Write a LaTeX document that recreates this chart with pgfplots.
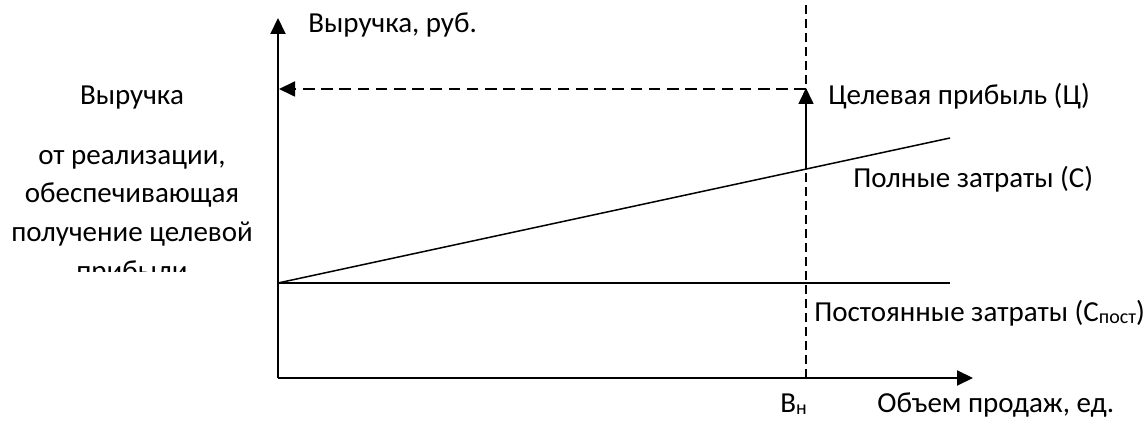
\documentclass[border=0pt]{standalone}
\usepackage{pgfplots}
\pgfplotsset{compat=1.18}
\usepackage{fontspec}
\setmainfont{Carlito}
\usetikzlibrary{arrows.meta}

% x: units from the vertical axis, y: units up from the horizontal axis
\tikzset{
  head/.style={-{Triangle[length=8pt,width=7.5pt]}},
  lbl/.style={anchor=base west, inner sep=0pt, font=\fontsize{14.5}{17}\selectfont},
  lft/.style={anchor=base, inner sep=0pt, font=\fontsize{14.5}{17}\selectfont},
}
\newcommand{\sub}[1]{\raisebox{-0.6pt}{\fontsize{10}{10}\selectfont #1}}

\begin{document}
\begin{tikzpicture}
\begin{axis}[
    width=573pt, height=211pt,
    scale only axis,
    hide axis,
    clip=false,
    xmin=-278, xmax=868,
    ymin=-44, ymax=378,
]
% axes
\addplot[black, line width=1pt, head] coordinates {(0,0) (0,360)};
\addplot[black, line width=1pt, head] coordinates {(0,0) (695,0)};

% fixed costs
\addplot[black, line width=0.7pt] coordinates {(0,95) (672,95)};
% total costs
\addplot[black, line width=0.75pt] coordinates {(0,95) (672,240)};

% planned sales volume
\addplot[black, line width=0.6pt, dash pattern=on 4.5pt off 2.5pt] coordinates {(528,0) (528,378)};

% target profit
\addplot[black, line width=0.8pt, head] coordinates {(528,209) (528,290)};
% revenue level
\addplot[black, line width=0.9pt, dash pattern=on 5.8pt off 3.3pt, head] coordinates {(528,289) (1,289)};

% labels
\node[lbl] at (axis cs:30,345) {Выручка, руб.};
\node[lbl] at (axis cs:550,273) {Целевая прибыль (Ц)};
\node[lbl] at (axis cs:575,190) {Полные затраты (С)};
\node[lbl] at (axis cs:536,56) {Постоянные затраты (С\sub{пост})};
\node[lbl] at (axis cs:502,-35) {В\sub{н}};
\node[lbl] at (axis cs:599,-35) {Объем продаж, ед.};

\node[lft] at (axis cs:-146,273) {Выручка};
\node[lft] at (axis cs:-146,213) {от реализации,};
\node[lft] at (axis cs:-146,175) {обеспечивающая};
\node[lft] at (axis cs:-146,136) {получение целевой};
\begin{scope}
  \clip (axis cs:-278,106) rectangle (axis cs:-10,140);
  \node[lft] at (axis cs:-146,97) {прибыли};
\end{scope}
\end{axis}
\pgfresetboundingbox
\path (current axis.south west) rectangle (current axis.north east);
\end{tikzpicture}
\end{document}
